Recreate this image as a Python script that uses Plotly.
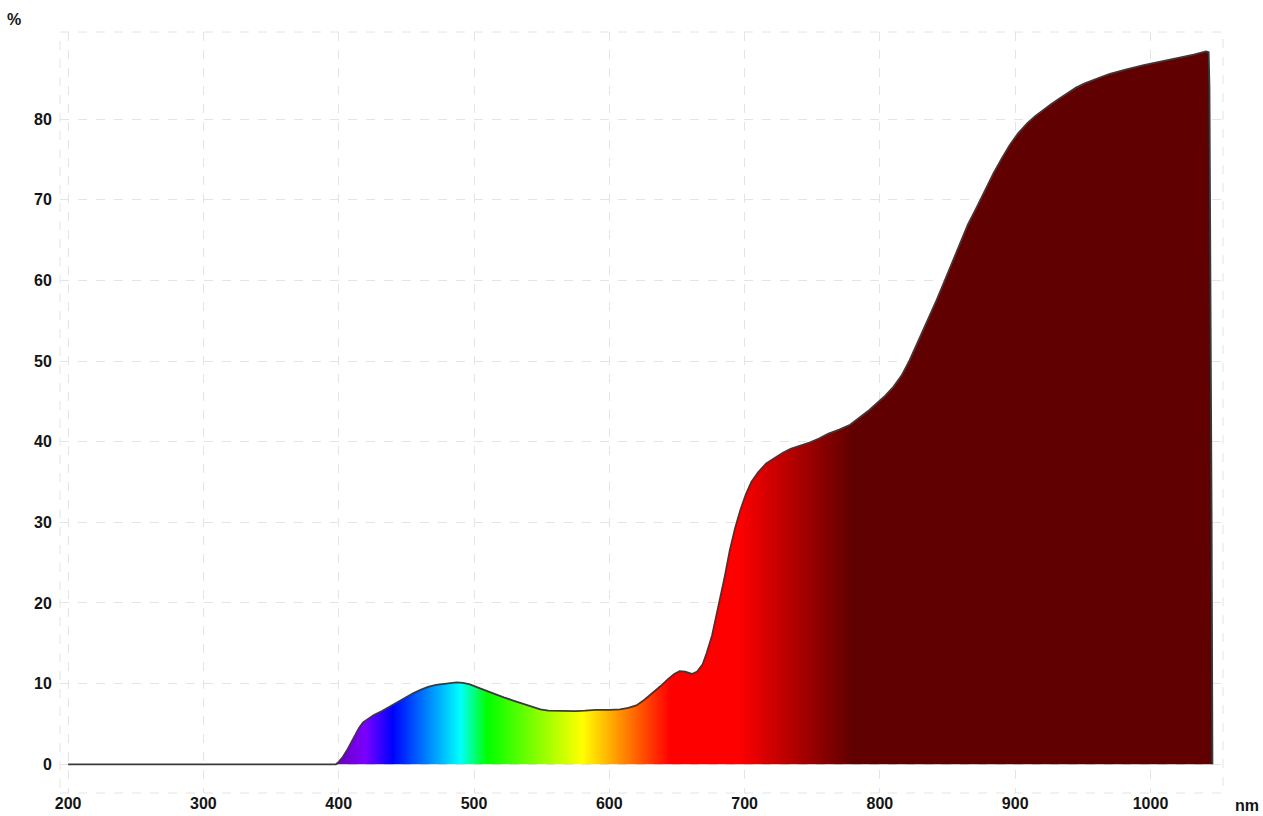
import plotly.graph_objects as go

wavelength_nm = [200, 300, 398, 400, 403, 406, 409, 412, 415, 418, 422, 426, 432, 439, 445, 450,
                 455, 460, 466, 472, 480, 487, 492, 497, 503, 509, 515, 522, 529, 536, 543, 549,
                 555, 565, 575, 582, 590, 600, 608, 614, 620, 626, 632, 638, 643, 648, 652, 656,
                 661, 665, 669, 672, 676, 679, 682, 685, 689, 693, 697, 701, 705, 710, 716, 722,
                 728, 734, 741, 748, 755, 762, 770, 778, 785, 792, 798, 804, 810, 816, 822, 828,
                 835, 841, 847, 853, 859, 865, 872, 878, 884, 890, 896, 902, 909, 915, 921, 927,
                 933, 939, 945, 951, 958, 964, 970, 976, 983, 995, 1007, 1019, 1032, 1041, 1043,
                 1043.6, 1044.5, 1045.2, 1045.8]
transmittance = [0, 0, 0, 0.3, 0.9, 1.7, 2.6, 3.6, 4.5, 5.2, 5.7, 6.1, 6.6, 7.3, 7.9, 8.4,
                 8.8, 9.2, 9.6, 9.85, 10.05, 10.15, 10.1, 9.9, 9.5, 9.1, 8.7, 8.3, 7.9, 7.5, 7.1, 6.8,
                 6.65, 6.6, 6.6, 6.65, 6.75, 6.75, 6.8, 7.0, 7.3, 8.0, 8.8, 9.7, 10.5, 11.2, 11.55, 11.5,
                 11.2, 11.5, 12.4, 13.8, 16.0, 18.2, 20.4, 23.0, 26.5, 29.3, 31.6, 33.5, 35.0, 36.2, 37.3, 38.0,
                 38.6, 39.1, 39.5, 39.9, 40.4, 41.0, 41.5, 42.1, 43.0, 43.9, 44.8, 45.7, 46.8, 48.2, 50.1, 52.3,
                 54.8, 57.2, 59.6, 62.1, 64.6, 66.9, 69.2, 71.3, 73.3, 75.1, 76.8, 78.2, 79.5, 80.4, 81.2, 81.9,
                 82.6, 83.3, 83.9, 84.4, 84.9, 85.25, 85.6, 85.9, 86.2, 86.7, 87.1, 87.5, 88.0, 88.4, 88.3,
                 84, 60, 30, 0]

x_ticks = [200, 300, 400, 500, 600, 700, 800, 900, 1000]
y_ticks = [0, 10, 20, 30, 40, 50, 60, 70, 80]

# spectrum colour stops (wavelength nm, colour)
spectrum_nm = [380, 398, 420, 440, 490, 510, 580, 645, 695, 780, 1050]
spectrum_col = ["#5a0090", "#6a00b4", "#7a00ff", "#0000ff", "#00ffff", "#00ff00",
                "#ffff00", "#ff0000", "#ff0000", "#600000", "#600000"]

g0, g1 = spectrum_nm[0], spectrum_nm[-1]
colorscale = [[(w - g0) / (g1 - g0), c] for w, c in zip(spectrum_nm, spectrum_col)]

fig = go.Figure()
fig.add_trace(go.Scatter(
    x=wavelength_nm, y=transmittance, mode="lines",
    line=dict(color="#3a3a3a", width=1.8),
    fill="tozeroy",
    fillgradient=dict(type="horizontal", colorscale=colorscale, start=g0, stop=g1),
    hoverinfo="x+y", showlegend=False,
))

tickfont = dict(family="Liberation Sans, Arial, sans-serif", size=16, color="#141414", weight="bold")

fig.update_layout(
    width=1263, height=816,
    margin=dict(l=60, r=40, t=32, b=23),
    paper_bgcolor="white", plot_bgcolor="white",
    xaxis=dict(range=[194, 1053.6], tickvals=x_ticks, ticktext=[str(v) for v in x_ticks],
               showgrid=True, gridcolor="#e4e4e4", griddash="dash", gridwidth=1,
               zeroline=False, showline=False, ticks="", ticklabelstandoff=-1,
               tickfont=tickfont, automargin=False),
    yaxis=dict(range=[-3.56, 90.8], tickvals=y_ticks, ticktext=[str(v) for v in y_ticks],
               showgrid=True, gridcolor="#e4e4e4", griddash="dash", gridwidth=1,
               zeroline=False, showline=False, ticks="outside", ticklen=4,
               tickcolor="rgba(0,0,0,0)", tickfont=tickfont, automargin=False),
    shapes=[dict(type="rect", xref="paper", yref="paper", x0=0, x1=1, y0=0, y1=1,
                 line=dict(color="#e4e4e4", width=1, dash="dash"), layer="below")],
    annotations=[
        dict(text="%", xref="paper", yref="paper", x=-0.0396, y=1.0158,
             showarrow=False, font=tickfont, xanchor="center", yanchor="middle"),
        dict(text="nm", xref="paper", yref="paper", x=1.0206, y=-0.017,
             showarrow=False, font=tickfont, xanchor="center", yanchor="middle"),
    ],
)

fig.write_html("out.html", config={"displayModeBar": False},
               post_script="document.body.style.margin='0';document.body.style.overflow='hidden';")
